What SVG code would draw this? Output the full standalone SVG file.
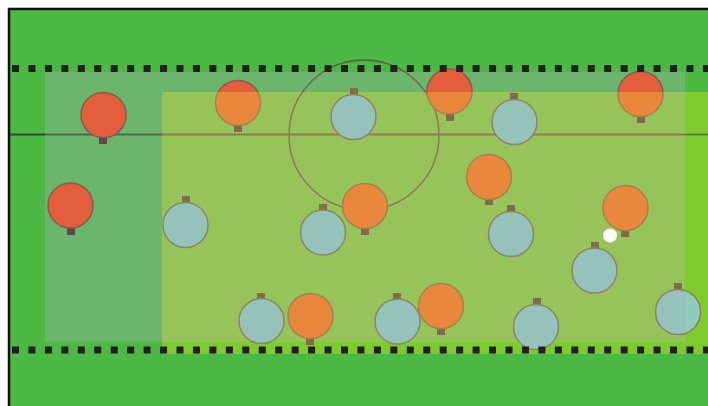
<svg xmlns="http://www.w3.org/2000/svg" width="708" height="406" viewBox="0 0 708 406">
<style>
.red{fill:#e25e3c;stroke:#8a5a4e;stroke-width:1.5}
.org{fill:#e9883c;stroke:#a3814f;stroke-width:1.5}
.blu{fill:#95c2bb;stroke:#8e8462;stroke-width:1.5}
.tea{fill:#8ecdbc;stroke:#8e8462;stroke-width:1.5}
.mr{fill:#5a4a4c}
.mo{fill:#7f6b48}
.mb{fill:#7e6c4a}
.dots{stroke:#231f20;stroke-width:7;stroke-dasharray:7 9.45;fill:none}
</style>
<defs>
<clipPath id="topband"><rect x="0" y="0" width="708" height="92"/></clipPath>
<clipPath id="rstrip"><rect x="685" y="92" width="23" height="262"/></clipPath>
<clipPath id="above72"><rect x="0" y="0" width="708" height="72"/></clipPath>
<clipPath id="band"><rect x="45" y="72" width="640" height="20"/></clipPath>
</defs>
<rect x="0" y="0" width="708" height="406" fill="#ffffff"/>
<rect x="9" y="9" width="699" height="397" fill="#4cb944"/>
<path d="M9 406V9H708" fill="none" stroke="#111" stroke-width="2.5"/>
<g id="field">
<rect x="162" y="92" width="546" height="262" fill="#7dcb2c"/>
<rect x="45" y="72" width="640" height="20" fill="#6cb56d"/>
<rect x="45" y="92" width="117" height="250" fill="#6cb56d"/>
<rect x="162" y="92" width="523" height="250" fill="#96c45a"/>
<line x1="10" y1="134.5" x2="45" y2="134.5" stroke="#2e4a30" stroke-width="2"/>
<line x1="45" y1="134.5" x2="162" y2="134.5" stroke="#4f6a52" stroke-width="2"/>
<line x1="162" y1="134.5" x2="685" y2="134.5" stroke="#8b7c4e" stroke-width="1.8"/>
<line x1="685" y1="134.5" x2="708" y2="134.5" stroke="#5e7a2c" stroke-width="1.8"/>
<circle cx="364" cy="135" r="75" fill="none" stroke="#8b7a55" stroke-width="1.5"/>
<circle cx="364" cy="135" r="75" fill="none" stroke="#4a6a3c" stroke-width="1.5" clip-path="url(#above72)"/>
<circle cx="364" cy="135" r="75" fill="none" stroke="#6a7458" stroke-width="1.5" clip-path="url(#band)"/>
</g>
<g id="players">
<g id="p1"><rect class="mr" x="99" y="137" width="8" height="7"/><circle class="red" cx="103.5" cy="115" r="22.5"/></g>
<g id="p2"><rect class="mr" x="67" y="228" width="8" height="7"/><circle class="red" cx="70.5" cy="205.5" r="22.5"/></g>
<g id="p3"><rect class="mo" x="234" y="125" width="8" height="7"/><circle class="org" cx="238" cy="103" r="22.5"/><circle class="red" cx="238" cy="103" r="22.5" clip-path="url(#topband)"/></g>
<g id="p4"><rect class="mo" x="446" y="114" width="8" height="7"/><circle class="org" cx="449.5" cy="91.5" r="22.5"/><circle class="red" cx="449.5" cy="91.5" r="22.5" clip-path="url(#topband)"/></g>
<g id="p5"><rect class="mo" x="637" y="116" width="8" height="7"/><circle class="org" cx="640.5" cy="94" r="22.5"/><circle class="red" cx="640.5" cy="94" r="22.5" clip-path="url(#topband)"/></g>
<g id="p6"><rect class="mb" x="350" y="88" width="8" height="7"/><circle class="blu" cx="353.5" cy="117" r="22.5"/></g>
<g id="p7"><rect class="mb" x="510" y="93" width="8" height="7"/><circle class="blu" cx="514.5" cy="122" r="22.5"/></g>
<g id="p8"><rect class="mb" x="182" y="196" width="8" height="7"/><circle class="blu" cx="185.5" cy="225" r="22.5"/></g>
<g id="p9"><rect class="mb" x="319" y="204" width="8" height="7"/><circle class="blu" cx="323" cy="232.5" r="22.5"/></g>
<g id="p10"><rect class="mb" x="507" y="205" width="8" height="7"/><circle class="blu" cx="511" cy="234" r="22.5"/></g>
<g id="p11"><rect class="mb" x="591" y="242" width="8" height="7"/><circle class="blu" cx="594.5" cy="270.5" r="22.5"/></g>
<g id="p12"><rect class="mb" x="257" y="293" width="8" height="7"/><circle class="blu" cx="261.5" cy="321" r="22.5"/></g>
<g id="p13"><rect class="mb" x="393" y="293" width="8" height="7"/><circle class="blu" cx="397.5" cy="321.5" r="22.5"/></g>
<g id="p14"><rect class="mb" x="533" y="298" width="8" height="7"/><circle class="blu" cx="536" cy="327" r="22.5"/></g>
<g id="p15"><rect class="mb" x="674" y="283" width="8" height="7"/><circle class="blu" cx="678" cy="312" r="22.5"/><circle class="tea" cx="678" cy="312" r="22.5" clip-path="url(#rstrip)"/></g>
<g id="p16"><rect class="mo" x="361" y="228" width="8" height="7"/><circle class="org" cx="365" cy="206" r="22.5"/></g>
<g id="p17"><rect class="mo" x="485" y="198" width="8" height="7"/><circle class="org" cx="489" cy="177" r="22.5"/></g>
<g id="p18"><rect class="mo" x="621" y="230" width="8" height="7"/><circle class="org" cx="625.5" cy="208" r="22.5"/></g>
<g id="p19"><rect class="mo" x="306" y="338" width="8" height="7"/><circle class="org" cx="310.5" cy="316" r="22.5"/></g>
<g id="p20"><rect class="mo" x="437" y="328" width="8" height="7"/><circle class="org" cx="441" cy="306" r="22.5"/></g>
<g id="ball"><circle cx="610" cy="235.5" r="7" fill="#ffffff"/></g>
</g>
<g id="connectors">
<line class="dots" x1="12" y1="68.5" x2="708" y2="68.5"/>
<line class="dots" x1="12" y1="350" x2="708" y2="350"/>
</g>
</svg>
